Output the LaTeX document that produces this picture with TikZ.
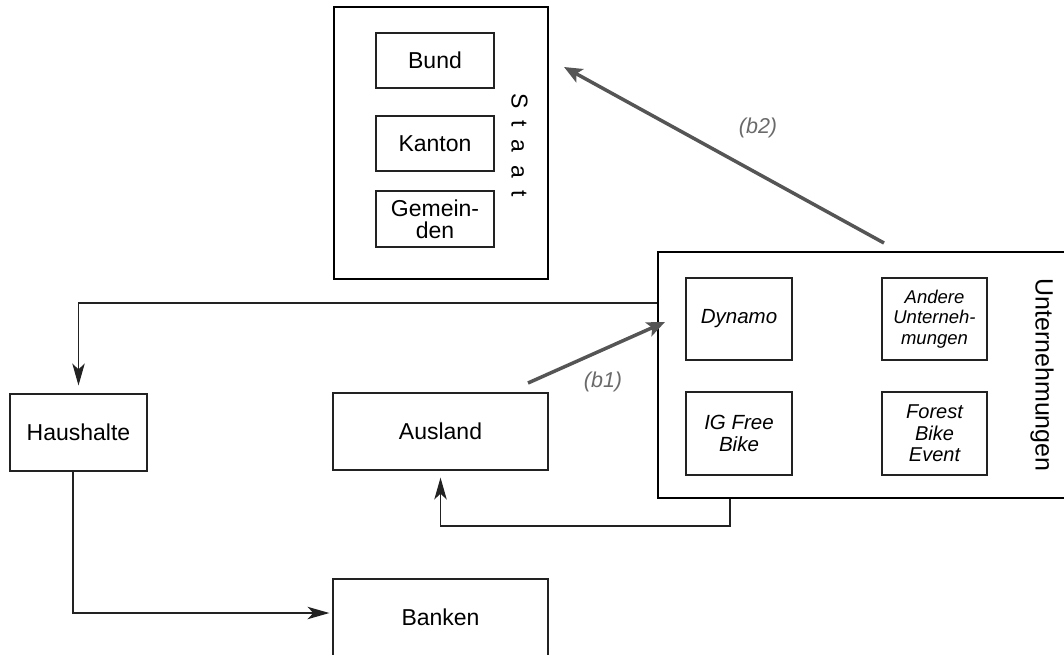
\documentclass[tikz,border=0pt]{standalone}
\usepackage{fontspec}
\setmainfont{Liberation Sans}
\usetikzlibrary{arrows.meta}
\definecolor{arrgray}{HTML}{555555}
\definecolor{lblgray}{HTML}{6A6A6A}
\definecolor{linecol}{HTML}{222222}
\begin{document}
\begin{tikzpicture}[x=1pt,y=-1pt,
  box/.style={draw=linecol, line width=1.2pt, inner sep=0pt, align=center, font=\fontsize{23}{22}\selectfont},
  outer/.style={draw=black, line width=2pt, inner sep=0pt},
  ibox/.style={box, font=\fontsize{20.5}{21.5}\selectfont\itshape},
  conn/.style={draw=linecol, line width=1.2pt, -{Stealth[length=22pt,width=12.5pt,inset=6pt]}},
  flow/.style={draw=arrgray, line width=3.5pt, -{Stealth[length=18pt,width=15pt,inset=4pt]}},
  lbl/.style={text=lblgray, inner sep=0pt, font=\fontsize{21.5}{21.5}\selectfont\itshape}]
\useasboundingbox (0,0) rectangle (1064,654);

% Staat
\node[outer, minimum width=214pt, minimum height=272pt] (S) at (441,143) {};
\node[box, minimum width=118pt, minimum height=55pt] (bund) at (435,60.5) {Bund};
\node[box, minimum width=118pt, minimum height=55pt] (kanton) at (435,143.5) {Kanton};
\node[box, minimum width=118pt, minimum height=56pt] (gem) at (435,219) {Gemein-\\den};
\node[rotate=-90, inner sep=0pt, font=\fontsize{23}{23}\selectfont] (staatlbl) at (519.5,145)
  {S\hspace{12.5pt}t\hspace{12.5pt}a\hspace{12.5pt}a\hspace{12.5pt}t};

% Unternehmungen
\node[outer, minimum width=417pt, minimum height=246pt] (U) at (866.5,375) {};
\node[ibox, minimum width=106pt, minimum height=82pt] (dyn) at (739,319) {Dynamo};
\node[ibox, minimum width=106pt, minimum height=83pt] (ig) at (739,433.5) {IG Free\\Bike};
\node[box, minimum width=105pt, minimum height=82pt, font=\fontsize{18.5}{20.5}\selectfont\itshape] (and) at (934.5,319) {Andere\\Unterneh-\\mungen};
\node[ibox, minimum width=105pt, minimum height=83pt, font=\fontsize{20}{21.3}\selectfont\itshape] (for) at (934.5,433.5) {Forest\\Bike\\Event};
\node[rotate=-90, inner sep=0pt, font=\fontsize{25}{25}\selectfont] (ulbl) at (1042,375) {Unternehmungen};

% other sectors
\node[box, minimum width=137pt, minimum height=77pt] (H) at (78.5,432.5) {Haushalte};
\node[box, minimum width=215pt, minimum height=77pt] (A) at (440.5,431.5) {Ausland};
\node[box, minimum width=215pt, minimum height=77pt] (B) at (440.5,617.5) {Banken};

% connectors
\draw[conn, shorten >=8pt] (U.west |- 0,303) -| (H.north);
\draw[conn, shorten >=3pt] (H.south -| 73,0) |- (B.west |- 0,613);
\draw[conn, shorten >=7pt] (U.south -| 730,0) -- (730,526) -| (A.south);

% flows
\coordinate (b1s) at (528,383);
\coordinate (b1e) at (665,322);
\coordinate (b2s) at (884,243);
\coordinate (b2e) at (564,67);
\draw[flow] (b1s) -- (b1e);
\draw[flow] (b2s) -- (b2e);
\node[lbl] (b1) at (603,382) {(b1)};
\node[lbl] (b2) at (758,128) {(b2)};
\end{tikzpicture}
\end{document}
